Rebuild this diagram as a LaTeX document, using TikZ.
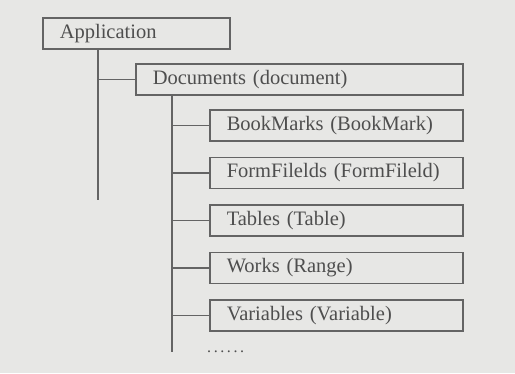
\documentclass[tikz,border=0pt]{standalone}
\usepackage{fontspec}
\setmainfont{Liberation Serif}
\usepackage{tikz}
\usetikzlibrary{positioning}
\definecolor{paper}{RGB}{231,231,229}
\definecolor{ink}{RGB}{78,78,78}
\definecolor{rule}{RGB}{100,100,100}

\begin{document}
\begin{tikzpicture}[x=1pt, y=-1pt,
		box/.style={draw=rule, line width=1.5pt, rectangle, minimum height=31pt, inner xsep=17pt, inner ysep=0pt, align=left, text=ink, font=\fontsize{20.5}{24}\selectfont},
		item/.style={box, text width=219pt},
		line/.style={draw=rule, line width=1.5pt}
		]
		\fill[paper] (0,0) rectangle (515,373);
		\useasboundingbox (0,0) rectangle (515,373);
		
		% Nodes
		\node[box, text width=153pt, anchor=north west] (app) at (42,17) {Application};
		\node[box, text width=293pt, anchor=north west] (doc) at (135,63) {Documents (document)};
		\node[item, anchor=north west] (bookmarks) at (209,109) {BookMarks (BookMark)};
		\node[item, below=15pt of bookmarks] (fields) {FormFilelds (FormFileld)};
		\node[item, below=15pt of fields] (tables) {Tables (Table)};
		\node[item, below=15pt of tables] (works) {Works (Range)};
		\node[item, below=15pt of works] (vars) {Variables (Variable)};
		\node[anchor=base west, text=ink, font=\fontsize{16}{20}\selectfont, inner sep=0pt] (more) at (207,352) {.\kern2.6pt.\kern2.6pt.\kern2.6pt.\kern2.6pt.\kern2.6pt.};
		
		% Trunks
		\coordinate (appEnd) at (98,200);
		\coordinate (docEnd) at (172,352);
		\draw[line] (app.south -| appEnd) -- (appEnd);
		\draw[line] (doc.south -| docEnd) -- (docEnd);
		
		% Branches
		\draw[line] (appEnd |- doc.west) -- (doc.west);
		\draw[line] (docEnd |- bookmarks.west) -- (bookmarks.west);
		\draw[line] (docEnd |- fields.west) -- (fields.west);
		\draw[line] (docEnd |- tables.west) -- (tables.west);
		\draw[line] (docEnd |- works.west) -- (works.west);
		\draw[line] (docEnd |- vars.west) -- (vars.west);
	\end{tikzpicture}
\end{document}
